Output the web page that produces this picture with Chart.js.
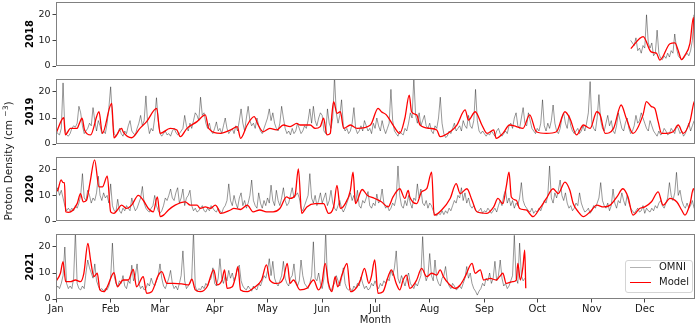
<!DOCTYPE html>
<html>
<head>
<meta charset="utf-8">
<script src="https://cdn.jsdelivr.net/npm/chart.js@4.4.1/dist/chart.umd.min.js"></script>
<style>
  html, body { margin: 0; padding: 0; background: #fff; }
  body { width: 700px; height: 326px; overflow: hidden; position: relative; font-family: 'DejaVu Sans', sans-serif; }
  canvas { position: absolute; left: 0; }
  #ylab { position: absolute; left: -62px; top: 155px; width: 140px; height: 12px; line-height: 12px;
          text-align: center; transform: rotate(-90deg); white-space: nowrap;
          font-size: 10.5px; font-weight: normal; color: #1a1a1a; }
  #ylab sup { font-size: 7.5px; line-height: 0; }
  #legend { position: absolute; left: 625px; top: 260px; width: 66px; height: 31px;
            border: 1px solid #d4d4d4; border-radius: 3px; background: rgba(255,255,255,0.85);
            font-size: 10px; color: #1a1a1a; }
  #legend .sw { position: absolute; left: 4px; width: 21px; height: 0; }
  #legend .lb { position: absolute; left: 33px; line-height: 12px; }
</style>
</head>
<body>
<canvas id="p2018" width="700" height="80" style="top:-6px"></canvas>
<canvas id="p2019" width="700" height="81" style="top:71px"></canvas>
<canvas id="p2020" width="700" height="80" style="top:149px"></canvas>
<canvas id="p2021" width="700" height="100" style="top:226px"></canvas>
<div id="ylab">Proton Density (cm <sup>−3</sup>)</div>
<div id="legend">
  <div class="sw" style="top:6px;border-top:1.2px solid rgba(0,0,0,0.3)"></div>
  <div class="lb" style="top:0px">OMNI</div>
  <div class="sw" style="top:21px;border-top:1.3px solid #ff0000"></div>
  <div class="lb" style="top:15px">Model</div>
</div>
<script>
// ── Axis setup ──────────────────────────────
const MONTHS = ['Jan', 'Feb', 'Mar', 'Apr', 'May', 'Jun', 'Jul', 'Aug', 'Sep', 'Oct', 'Nov', 'Dec'];
const MONTH_START_DAYS = [0, 31, 59, 90, 120, 151, 181, 212, 243, 273, 304, 334];
const Y_TICKS = [0, 10, 20];
const X_MAX = 362.5;   // axis ends a few days before Dec 31
const Y_MAX = 25;

// ── OMNI observations (daily, proton density cm^-3) ──
const OMNI_START_2018 = 326;
const OMNI_2018 = [10, 9, 8, 11, 6, 7, 5, 8, 7, 20, 9, 7, 9, 4, 5, 14, 5, 3, 2.5, 4, 3, 5, 3.5, 6, 5, 12.5, 7, 4, 3, 2.5, 3, 4, 5, 4, 6, 10, 20, 4];

const OMNI_START_2019 = 0;
const OMNI_2019 = [
  5, 4, 3.5, 6, 23.5, 6, 3.5, 3, 4, 6, 7, 6.5, 8, 14.5, 12, 7, 4, 5, 6, 8,
  7, 14, 9, 5, 9, 7, 4, 5, 4, 8, 14, 22, 10, 4, 3, 4, 6, 4, 3, 5,
  4, 7, 9, 5, 4, 3.5, 6, 8, 11, 7, 9, 18.5, 8, 4, 6, 5, 10, 17.8, 9, 4,
  3, 4, 5, 3.5, 4, 3, 5, 6, 4.5, 3.5, 4, 5, 6, 11, 7, 5, 8, 6, 9,
  12, 11, 9, 18, 11, 12, 8, 6, 8, 5, 4, 6, 8.5, 5, 6, 4, 7, 10, 6, 4,
  5, 6, 4, 7, 5, 9, 13.5, 8, 5, 10, 14.5, 9, 7, 8, 6, 10, 7, 5, 4, 6,
  8, 10, 13.5, 9, 12, 8, 6, 5, 8, 14.5, 10, 6, 4, 5, 3.5, 6, 4, 5, 8, 6,
  4, 5, 7, 6, 9, 13.5, 8, 14.5, 9, 7, 10, 12, 11, 5, 4, 13.5, 8, 6, 10, 26,
  12, 8, 11, 17, 7, 5, 6, 4, 5, 8, 14, 6, 4, 5, 7, 5, 9, 7, 5, 6,
  4, 8, 6, 10, 7, 5, 9, 6, 4, 6, 8, 21, 9, 5, 4, 3, 5, 4, 3.5, 6,
  5, 8, 12, 10, 25.5, 11, 8, 12, 7, 9, 11, 7, 6, 8, 5, 4, 7, 6, 10, 18,
  8, 4, 2.5, 3, 5, 4, 6, 8, 5, 6, 7, 5, 9, 7, 6, 11, 7, 6, 9,
  21, 9, 5, 4, 5, 4, 3, 4, 3.5, 5, 4, 3, 5, 6, 4, 3, 4, 5, 4, 7,
  8, 6, 10, 12, 7, 6, 10, 14, 8, 7, 12, 9, 6, 5, 4, 6, 5, 8, 17, 7,
  5, 8, 6, 9, 15, 8, 5, 4, 6, 10, 12, 8, 6, 11, 7, 5, 4, 5, 6, 4,
  5, 7, 5, 8, 12, 24, 8, 6, 5, 10, 19, 9, 6, 5, 8, 11, 7, 9, 5, 4,
  7, 12, 9, 6, 5, 8, 10, 6, 4, 5, 7, 11, 8, 9, 12, 10, 8, 6, 5, 9,
  7, 5, 4, 3, 5, 3.5, 4, 6, 5, 3.5, 4, 6, 5, 4, 7, 6, 4, 5, 3, 4,
  6, 8, 5, 7, 9
];

const OMNI_START_2020 = 0;
const OMNI_2020 = [
  11, 13, 10, 12, 9, 6, 4, 5, 4, 5, 4, 6, 5, 7, 10, 18.5, 9, 8, 12, 10,
  7, 9, 8, 11, 17.5, 10, 8, 11, 9, 10, 7, 14.5, 6, 4, 3.5, 8.5, 4, 3, 5, 4,
  6, 5, 4, 9, 6, 4, 5, 7, 9, 13.5, 7, 5, 4, 3.5, 5, 6, 10, 6, 4, 3,
  4, 6, 9, 8, 10, 12.5, 9, 8, 11, 13, 7, 9, 12.5, 6, 9, 10, 12, 6, 4,
  5, 3.5, 4, 5, 6, 4, 3.5, 5, 4, 6, 5, 4, 3.5, 5, 4, 3, 5, 6, 8, 14.5,
  8, 6, 10, 7, 5, 9, 11, 6, 8, 5, 7, 10, 16, 8, 6, 5, 11, 7, 5, 8,
  6, 9, 7, 14, 8, 6, 12, 8, 6, 9, 13, 8, 6, 7, 10, 13, 9, 10, 11, 9,
  5, 4, 6, 8, 10, 18.5, 9, 7, 10, 6, 8, 11, 7, 9, 11, 6, 8, 12, 7, 5,
  4, 6, 8, 5, 3.5, 5, 7, 9, 11, 8, 10, 7, 12, 6, 5, 8, 7, 9, 11.5, 6,
  5, 7, 6, 10.5, 7, 8, 12.5, 7, 5, 6, 4, 5, 7, 6, 9, 21.5, 10, 6, 5, 8,
  6, 10, 7, 5, 9, 8, 14.5, 9, 12.5, 7, 6, 8, 5, 7, 6, 4, 2.5, 2, 3, 2.5,
  4, 2.5, 4, 3, 5, 4, 6, 8, 7, 10, 9, 13, 8, 11, 7, 9, 6, 5, 6,
  4, 3.5, 4, 5, 3, 4, 3.5, 5, 4, 3, 4, 5, 3.5, 6, 8, 6, 10, 12, 7, 9,
  6, 8, 5, 7, 6, 9, 15, 8, 6, 5, 4, 3.5, 5, 3, 4, 3.5, 5, 4, 6, 8,
  7, 10, 21.5, 9, 7, 11, 9, 12, 16, 10, 8, 11, 7, 5, 6, 4, 5, 7, 6, 11,
  7, 5, 3.5, 4, 5, 3, 4, 6, 5, 7, 9, 15, 8, 6, 5, 7, 4, 6, 12.5, 7,
  5, 8, 7, 11, 8, 6, 10, 7, 5, 4, 3, 4, 5, 3.5, 4, 6, 3, 5, 4, 3.5,
  5, 4, 6, 5, 7, 8, 6, 5, 7, 9, 15, 10, 8, 11, 19, 10, 12, 8, 6, 5,
  7, 5, 6, 8, 5, 6
];

const OMNI_START_2021 = 0;
const OMNI_2021 = [
  4, 5, 4, 6, 9, 20, 6, 4, 5, 4, 8, 26, 6, 4, 3.5, 5, 4, 10, 15, 12,
  10, 8, 13.5, 7, 5, 3.5, 4, 3, 4, 3.5, 5, 8, 21.5, 9, 6, 5, 7, 6, 9, 5,
  4, 7, 6, 13, 7, 9, 13.5, 6, 4, 5, 3.5, 4, 6, 5, 8, 6, 5, 7, 9, 13.5,
  8, 5, 4, 6, 8, 11, 6, 4, 5, 3.5, 6, 9, 18.5, 7, 4, 5, 6, 8, 26,
  5, 3, 4, 3.5, 5, 4, 6, 5, 7, 8, 12, 6, 5, 8, 15.5, 8, 6, 9, 7, 11,
  8, 10, 7, 9, 12, 13, 7, 5, 4, 3.5, 5, 4, 3, 5, 4, 3.5, 6, 5, 7, 9,
  8, 11, 15.5, 9, 14.5, 8, 6, 5, 7, 9, 14.5, 8, 6, 5, 8, 9, 13.5, 7, 5, 7,
  15, 9, 6, 5, 4, 6, 9, 22, 8, 7, 10, 6, 4, 8, 26, 7, 4, 3, 5, 6,
  9, 7, 5, 8, 12, 6, 4, 3.5, 4, 3, 5, 4, 6, 5, 8.5, 6, 4, 5, 3.5, 4,
  6, 5, 7, 5, 4, 6, 5, 7, 6, 8, 7, 11, 9, 12, 18.5, 8, 6, 9, 7, 5,
  8, 10, 6, 5, 4, 6, 5, 7, 9, 24, 10, 7, 9, 17.5, 9, 7, 15, 8, 6, 5,
  8, 9, 12.5, 7, 5, 4, 6, 5, 3.5, 4, 5, 4, 6, 8, 12.5, 8, 10, 6, 4,
  3, 1.5, 3, 4, 6, 5, 8, 7, 10, 6, 8, 14.5, 7, 9, 15, 8, 5, 6, 4, 5,
  7, 9, 24.5, 8, 6, 21.5, 9, 7, 8
];

// ── Model output (day of year, value) ───────
const MODEL_DAYS_2018 = [326.1, 333.1, 337.6, 340.6, 342.6, 348.3, 351.1, 353, 354.9, 356.6, 359.6, 361.6, 362.6, 363.6];
const MODEL_VALS_2018 = [6.8, 11.5, 5.5, 5, 2.3, 8.7, 9, 6, 2.5, 4, 8.7, 19, 2.3, 3];

const MODEL_DAYS_2019 = [
  0, 4.4, 5.3, 8.2, 12, 12.9, 14.8, 16.2, 19.6, 24.4, 26.3, 31.6, 32.9, 37.2, 38.1, 42.9, 47.6, 51.4,
  57.1, 59.1, 64.8, 68.6, 70.5, 74.3, 80, 84.7, 86.6, 93.3, 99, 102.8, 104.7, 108.5, 112.4, 114.7,
  117.5, 121.3, 125.1, 129, 132.8, 136.6, 138.5, 144.2, 147, 149.9, 151.8, 153.7, 155.6, 156.5,
  157.5, 159.4, 161.3, 163.2, 167,
  170.8, 178.4, 182.7, 184.6, 187.4, 191.2, 195, 197.9, 200.4, 201.7, 204.6, 206.5, 212.2, 216,
  217.9, 223.6, 227.4, 232.1, 234, 237.8, 241.6, 244.5, 248.3, 249.7, 253.5, 257.3, 261.1, 264.9,
  268.7, 272.5, 278.2, 283.9, 288.7, 291.5, 295.3, 299.2, 303, 306.8, 308.7, 311.5, 316.3, 320.6,
  323.5, 327.3, 333, 334.9, 337.8, 339.7, 341.6, 343.5, 346.3, 350.1, 353, 355.8, 359.6, 362.5, 364
];
const MODEL_VALS_2019 = [
  4.1, 10.1, 3.5, 6, 6, 7.3, 9.9, 5.4, 3.5, 12.4, 4.1, 15.6, 2.4, 6, 4.7, 2.4, 6, 8.6,
  13.7, 4.1, 6, 5.4, 2.8, 6, 8.6, 11.2, 6, 4.1, 5.4, 6.7, 2.2, 7.3, 10.5, 7.3,
  4.7, 6, 5.4, 7.3, 6.7, 7.9, 7.3, 7.3, 6, 6.7, 9.9, 3.5, 4.1, 11.2,
  16.3, 11.8, 12.4, 6, 7.3,
  6, 7.3, 13.7, 12.4, 11.2, 7.3, 4.1, 9.9, 18.8, 12.4, 11.2, 7.3, 6, 5.4,
  2.8, 4.7, 7.3, 13.1, 9.2, 12.4, 7.3, 4.1, 5.4, 2.2, 4.1, 7.3, 6.7, 6,
  11.2, 4.7, 4.1, 4.7, 12.4, 9.9, 3.5, 7.3, 6, 12.4, 11.2, 4.1, 6, 15,
  9.9, 4.1, 11.2, 16.3, 14.4, 13.7, 8.6, 4.1, 4.1, 4.7, 7.3, 4.1, 8.6, 16.9, 14.4
];

const MODEL_DAYS_2020 = [
  0, 1, 2.9, 4, 4.8, 5.5, 7.2, 12, 13.9, 15.4, 17.3, 19.2, 21.9, 24.4, 26.3, 29.1, 31, 32.9, 34.8,
  37.2, 40, 42.9, 46.7, 49.5, 52.4, 55.2, 57.5, 59.1, 61, 63.8, 67.6, 73.3, 76.2, 80, 81.9, 84.7,
  87.6, 90.4, 91.4, 93.3, 99, 100.9, 104.7, 108.5, 111.8, 115.6, 119.4, 123.2, 127, 130.8, 132.8,
  135.6, 137.5, 139.4, 142.3, 147, 151.8, 154.6, 157.5, 159.4, 161.3, 164.1, 167,
  168.5, 169.9, 173.7, 176.5, 180.8, 184.6, 188.4, 191.2, 195, 197.9, 199.8, 200.7, 204.6, 207.4,
  210.3, 213.1, 214.5, 218.8, 223.6, 227, 229.3, 233.1, 236, 238.8, 244.5, 248.3, 250.7, 253.5,
  255.4, 257, 258.3, 261.1, 263, 266.8, 270.6, 274.4, 278.2, 282, 284.9, 288.7, 291.5, 293.4,
  296.3, 299.2, 303, 306.8, 310.6, 314.4, 318.2, 321.6, 324.5, 327.3, 331.1, 334, 337.8, 341.6,
  344.4, 348.3, 352.1, 354.9, 356.8, 359.7, 361.6, 363.5
];
const MODEL_VALS_2020 = [
  11.4, 12, 16.1, 15, 15, 3.6, 3.4, 6.8, 10.7, 7.5, 8.1, 14.6, 23.9, 13.3, 13.3, 17.5, 3.6, 3, 4.3,
  6.2, 4.9, 6.2, 10, 8.1, 4.9, 3.6, 9.4, 1.7, 2.3, 4.3, 6.2, 7.5, 6.2, 6.2, 4.9, 5.5,
  4.9, 6.2, 5.5, 3, 4.3, 4.9, 4.5, 6.2, 3.6, 4.3, 3.6, 3.6, 4.9, 9.4, 8.8,
  10, 20.4, 3, 5.5, 6.8, 6.8, 3, 5.5, 13.9, 4.9, 6.8, 12,
  19.1, 6.8, 12.3, 10.1, 8.8, 7.5, 5.5, 9.4, 12.6, 8.8, 12, 9.4, 6.8, 11.4,
  12.6, 19.1, 2.3, 4.3, 8.8, 14.6, 10.7, 12.6, 8.1, 3.6, 3, 5.5, 8.8, 6.8,
  13.3, 19.1, 9.4, 8.1, 4.9, 4.3, 1.7, 4.9, 8.8, 12.6, 10.7, 15.2, 12, 6.8,
  3.6, 1.7, 3.6, 6.2, 5.5, 6.2, 9.4, 12.6, 9.4, 2.3, 4.9, 5.5, 7.5, 11.4,
  6.2, 8.8, 7.5, 4.3, 2.3, 6.8, 12.6, 4.3
];

const MODEL_DAYS_2021 = [
  0, 2.5, 4, 5.5, 8.2, 11, 13.9, 15.8, 18.1, 19.6, 21.5, 23.4, 24.9, 27.2, 29.1, 32.9, 34.8, 38.1,
  41, 43.8, 45.7, 49.5, 51.4, 54.3, 58.1, 60, 62.9, 66.7, 71.4, 75.2, 77.1, 79, 81.9, 85.7, 89.5,
  91.4, 94.2, 95.6, 97.1, 100, 101.9, 103.2, 104.7, 108.5, 111.8, 116.6, 119.4, 121.3, 125.1, 129,
  131.2, 132.8, 134.7, 138.5, 142.3, 146.1, 148.9, 150.8, 152.7, 154.6, 156.5, 158.4, 159.8, 162.2,
  165.1, 167,
  170.8, 172.7, 175, 177.5, 178.9, 180.8, 182.7, 185.5, 188.4, 190.3, 193, 195, 196.9, 198.8, 200.7,
  204.6, 207.4, 210.3, 213.1, 216, 217.9, 219.8, 222.6, 226.4, 229.3, 232.1, 236, 237.8, 240.7,
  242.6, 246.4, 249.7, 251.6, 253.5, 255.4, 259.2, 261.1, 262, 263.4, 264.9, 265.9, 266.5
];
const MODEL_VALS_2021 = [
  6.7, 9.9, 14.4, 6.7, 6.7, 7.3, 6.7, 9.9, 21.4, 15, 8.6, 9.9, 3.5, 2.8, 4.7, 10.1, 4.7, 7.3,
  7.3, 11.4, 4.7, 8.6, 2.2, 2.8, 9.2, 10.5, 6, 6, 5.8, 5.4, 7.6, 3.5, 2.8, 4.7, 11.2,
  5.4, 7.3, 11.2, 4.1, 4.7, 8.6, 12.4, 3.5, 2.8, 4.1, 7.3, 13.1, 7.3, 6, 7.9,
  13.7, 6, 7.3, 3.5, 4.1, 7.3, 3.5, 6, 13.7, 6, 2.8, 8.6, 4.7, 9.2,
  13.7, 2.8,
  4.7, 7.3, 11.8, 6, 8.6, 15, 2.2, 2.8, 8.6, 11.2, 6, 3.5, 7.3, 9.2, 4.1,
  7.3, 11.8, 8.6, 9.9, 9.2, 11.2, 8.6, 6, 4.1, 5.4, 8.6, 13.7, 9.9, 11.2,
  7.3, 7.9, 7.3, 8.6, 9.9, 6, 6.7, 7.3, 13.7, 7.3, 12.4, 18.8, 4.1
];

// ── Styles ──────────────────────────────────
const OMNI_COLOR = 'rgba(0,0,0,0.45)';
const MODEL_COLOR = '#ff0000';
const TEXT_COLOR = '#1a1a1a';
const TICK_COLOR = '#444';
const SPINE_COLOR = '#808080';
const FONT = 'DejaVu Sans';

Chart.defaults.font.family = FONT;

// draws the full box round each panel
const frameBox = {
  id: 'frameBox',
  afterDatasetsDraw(chart) {
    const { ctx, chartArea: a } = chart;
    ctx.save();
    ctx.strokeStyle = SPINE_COLOR;
    ctx.lineWidth = 1;
    ctx.strokeRect(Math.round(a.left) + 0.5, Math.round(a.top) + 0.5,
                   Math.round(a.width) - 1, Math.round(a.height) - 1);
    ctx.restore();
  }
};

function buildPanel(id, year, omniStart, omniVals, modelDays, modelVals, isBottom) {
  const omniPts = omniVals.map((v, i) => ({ x: omniStart + i, y: v }));
  const modelPts = modelDays.map((d, i) => ({ x: d, y: modelVals[i] }));

  return new Chart(document.getElementById(id), {
    type: 'line',
    data: {
      datasets: [
        { label: 'Model', data: modelPts, borderColor: MODEL_COLOR, borderWidth: 1.3,
          pointRadius: 0, cubicInterpolationMode: 'monotone', fill: false },
        { label: 'OMNI', data: omniPts, borderColor: OMNI_COLOR, borderWidth: 0.9,
          pointRadius: 0, tension: 0, fill: false },
      ],
    },
    options: {
      responsive: false,
      animation: false,
      devicePixelRatio: 1,
      events: [],
      layout: { padding: { top: 8, right: 5, bottom: isBottom ? 0 : 8, left: 0 } },
      plugins: { legend: { display: false }, tooltip: { enabled: false } },
      scales: {
        x: {
          type: 'linear', min: 0, max: X_MAX, display: isBottom,
          afterBuildTicks: s => { s.ticks = MONTH_START_DAYS.map(v => ({ value: v })); },
          afterFit: s => { s.height = isBottom ? 27 : 0; },
          ticks: { callback: (v, i) => MONTHS[i], color: TEXT_COLOR, font: { size: 10 },
                   padding: 1, maxRotation: 0, autoSkip: false },
          grid: { drawOnChartArea: false, drawTicks: true, tickLength: 3.5, color: TICK_COLOR },
          border: { display: false },
          title: { display: true, text: 'Month', color: TEXT_COLOR, font: { size: 10 }, padding: 0 },
        },
        y: {
          min: 0, max: Y_MAX,
          afterBuildTicks: s => { s.ticks = Y_TICKS.map(v => ({ value: v })); },
          afterFit: s => { s.width = 56; },
          ticks: { color: TEXT_COLOR, font: { size: 9.5 }, padding: 2 },
          grid: { drawOnChartArea: false, drawTicks: true, tickLength: 3.5, color: TICK_COLOR },
          border: { display: false },
          title: { display: true, text: year, color: '#000', font: { size: 10, weight: 'bold' },
                   padding: { top: 24, bottom: 0 } },
        },
      },
    },
    plugins: [frameBox],
  });
}

buildPanel('p2018', '2018', OMNI_START_2018, OMNI_2018, MODEL_DAYS_2018, MODEL_VALS_2018, false);
buildPanel('p2019', '2019', OMNI_START_2019, OMNI_2019, MODEL_DAYS_2019, MODEL_VALS_2019, false);
buildPanel('p2020', '2020', OMNI_START_2020, OMNI_2020, MODEL_DAYS_2020, MODEL_VALS_2020, false);
buildPanel('p2021', '2021', OMNI_START_2021, OMNI_2021, MODEL_DAYS_2021, MODEL_VALS_2021, true);
</script>
</body>
</html>
